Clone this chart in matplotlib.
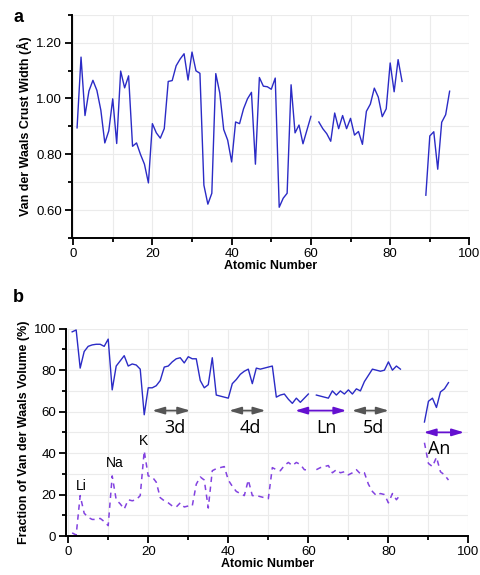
import numpy as np
import matplotlib.pyplot as plt
from matplotlib.ticker import MultipleLocator, FormatStrFormatter

plt.rcParams['font.family'] = ['Liberation Sans', 'DejaVu Sans']

nan = np.nan

# atomic numbers 1..95, gaps where no value
atomic_number = np.arange(1, 96)

# panel a: van der Waals crust width (Angstrom)
crust_width = [
    0.895, 1.148, 0.939, 1.027, 1.065, 1.029, 0.958, 0.841, 0.884, 0.999,
    0.839, 1.098, 1.038, 1.081, 0.829, 0.841, 0.800, 0.765, 0.698, 0.910,
    0.877, 0.858, 0.892, 1.061, 1.064, 1.117, 1.141, 1.160, 1.066, 1.166,
    1.099, 1.090, 0.690, 0.622, 0.661, 1.089, 1.020, 0.889, 0.851, 0.773,
    0.916, 0.910, 0.963, 0.999, 1.022, 0.765, 1.075, 1.044, 1.042, 1.033,
    1.073, 0.611, 0.643, 0.661, 1.049, 0.877, 0.905, 0.838, 0.887, 0.936,
    nan, 0.916, 0.892, 0.874, 0.847, 0.948, 0.892, 0.939, 0.892, 0.929,
    0.869, 0.882, 0.836, 0.954, 0.980, 1.037, 1.005, 0.935, 0.963, 1.127,
    1.024, 1.139, 1.061, nan, nan, nan, nan, nan, 0.654, 0.866,
    0.881, 0.747, 0.915, 0.942, 1.026,
]

# panel b: fraction of vdW volume (%), solid and dashed series
vol_solid = [
    98.5, 99.4, 81.0, 89.0, 91.5, 92.2, 92.5, 92.5, 91.5, 95.0,
    70.5, 82.0, 84.5, 87.0, 82.0, 83.0, 82.5, 80.5, 58.5, 71.5,
    71.5, 72.5, 75.0, 81.5, 82.0, 84.0, 85.5, 86.0, 83.5, 86.5,
    85.5, 85.5, 75.0, 71.5, 73.0, 86.0, 68.0, 67.5, 67.0, 66.5,
    73.5, 75.5, 78.0, 79.5, 80.5, 73.5, 81.0, 80.5, 81.0, 81.5,
    82.0, 67.0, 68.0, 68.5, 66.0, 64.0, 66.5, 64.5, 66.5, 68.5,
    nan, 68.0, 67.5, 67.0, 66.5, 70.0, 68.0, 70.0, 68.5, 70.5,
    68.5, 71.0, 70.0, 74.5, 77.5, 80.5, 80.0, 79.5, 80.0, 84.0,
    80.0, 82.0, 80.5, nan, nan, nan, nan, nan, 55.0, 65.0,
    66.5, 62.0, 69.5, 71.0, 74.0,
]
vol_dashed = [
    1.5, 0.5, 19.5, 11.0, 9.0, 8.0, 8.0, 8.5, 7.0, 5.0,
    29.0, 17.5, 15.5, 13.0, 17.5, 17.0, 17.5, 19.5, 41.0, 29.0,
    28.5, 26.0, 18.5, 17.0, 16.0, 14.5, 14.0, 16.0, 14.0, 14.5,
    14.5, 25.0, 28.5, 27.0, 13.5, 31.5, 32.5, 33.0, 33.5, 27.0,
    24.0, 21.5, 20.5, 19.5, 27.0, 19.5, 19.5, 19.0, 18.5, 18.0,
    33.0, 32.0, 31.5, 34.0, 35.5, 34.0, 35.5, 34.5, 32.0, 31.8,
    nan, 32.0, 33.0, 33.5, 34.0, 30.5, 32.0, 30.5, 31.0, 29.5,
    30.5, 32.0, 30.0, 30.5, 25.0, 21.5, 19.5, 20.5, 20.0, 16.0,
    20.5, 17.5, 20.0, nan, nan, nan, nan, nan, 45.0, 35.0,
    33.5, 38.0, 31.0, 29.5, 27.0,
]

blue = '#2b2bc6'
purple = '#8242e0'
grey_arrow = '#555555'
purple_arrow = '#6410d0'
grid_col = '#ebebeb'

fig = plt.figure(figsize=(4.8, 5.75), dpi=100)
ax1 = fig.add_axes([0.149, 0.5856, 0.829, 0.389])
ax2 = fig.add_axes([0.137, 0.0678, 0.839, 0.3605])


def style(ax):
    for s in ['top', 'right']:
        ax.spines[s].set_visible(False)
    for s in ['left', 'bottom']:
        ax.spines[s].set_linewidth(1.4)
    ax.tick_params(which='major', direction='out', length=5, width=1.3, labelsize=9.5, pad=2)
    ax.tick_params(which='minor', direction='out', length=3, width=1.3)
    ax.grid(which='both', color=grid_col, lw=0.8)
    ax.set_axisbelow(True)
    ax.xaxis.set_major_locator(MultipleLocator(20))
    ax.xaxis.set_minor_locator(MultipleLocator(10))
    ax.set_xlabel('Atomic Number', fontsize=9, fontweight='bold', labelpad=0)


# panel a
ax1.plot(atomic_number, crust_width, color=blue, lw=1.0)
ax1.set_xlim(-0.4, 100)
ax1.set_ylim(0.5, 1.3)
style(ax1)
ax1.yaxis.set_major_locator(MultipleLocator(0.2))
ax1.yaxis.set_minor_locator(MultipleLocator(0.1))
ax1.yaxis.set_major_formatter(FormatStrFormatter('%.2f'))
ax1.set_yticks([0.6, 0.8, 1.0, 1.2])
ax1.set_ylabel('Van der Waals Crust Width (Å)', fontsize=9, fontweight='bold', labelpad=3)
fig.text(0.028, 0.962, 'a', fontsize=13, fontweight='bold')

# panel b
ax2.plot(atomic_number, vol_solid, color=blue, lw=1.0)
ax2.plot(atomic_number, vol_dashed, color=purple, lw=1.1, ls=(0, (3.5, 3)))
ax2.set_xlim(-0.6, 100)
ax2.set_ylim(0, 100)
style(ax2)
ax2.yaxis.set_major_locator(MultipleLocator(20))
ax2.yaxis.set_minor_locator(MultipleLocator(10))
ax2.set_ylabel('Fraction of Van der Waals Volume (%)', fontsize=9, fontweight='bold', labelpad=3)
fig.text(0.026, 0.475, 'b', fontsize=13, fontweight='bold')

arrow_style = '<|-|>,head_length=0.6,head_width=0.18'
for x0, x1, y, col in [(21, 30.5, 60.5, grey_arrow), (40.2, 49.3, 60.5, grey_arrow),
                       (56.7, 69.5, 60.5, purple_arrow), (70.9, 80.1, 60.5, grey_arrow),
                       (88.8, 98.9, 50, purple_arrow)]:
    ax2.annotate('', xy=(x1, y), xytext=(x0, y),
                 arrowprops=dict(arrowstyle=arrow_style, color=col, lw=1.3,
                                 mutation_scale=12, shrinkA=0, shrinkB=0))

for txt, x, y in [('3d', 26.7, 52), ('4d', 45.6, 52), ('Ln', 64.6, 52), ('5d', 76.2, 52), ('An', 92.8, 42)]:
    ax2.text(x, y, txt, fontsize=13, family=['Open Sans', 'DejaVu Sans'], ha='center', va='center')

for txt, x, y in [('Li', 3.3, 24), ('Na', 11.6, 35), ('K', 18.9, 46)]:
    ax2.text(x, y, txt, fontsize=10, ha='center', va='center')

fig.savefig('out.png', dpi=100)
